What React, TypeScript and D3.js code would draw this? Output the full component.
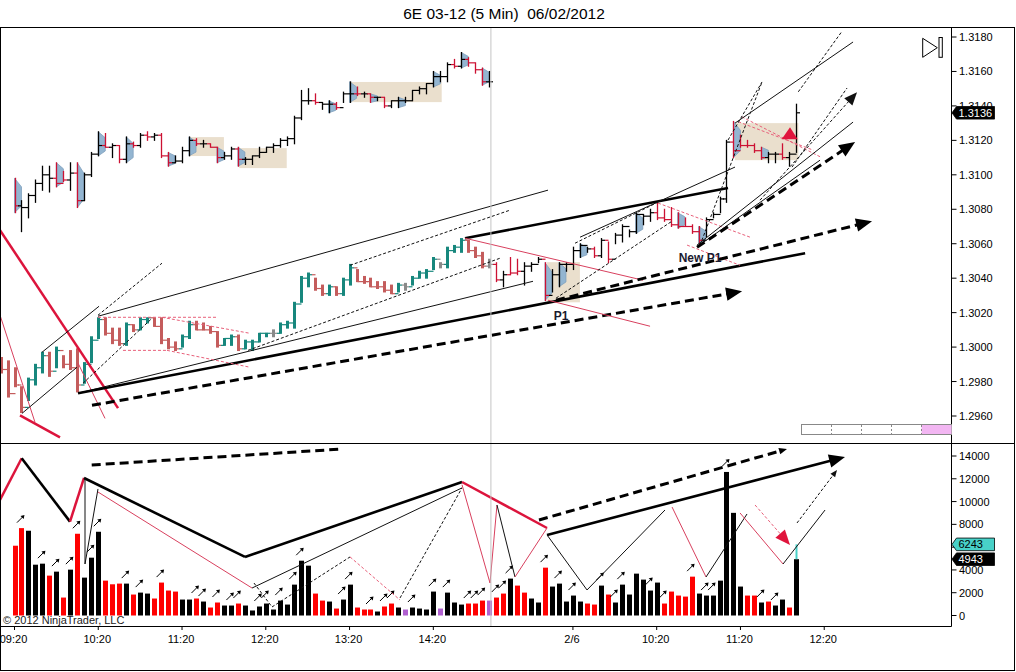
import { useEffect, useRef } from 'react';
import * as d3 from 'd3';

// ---- axis labels ----
const xTickIdx = [0, 12, 24, 36, 48, 60, 80, 92, 104, 116];
const xTickLbl = ['09:20', '10:20', '11:20', '12:20', '13:20', '14:20', '2/6', '10:20', '11:20', '12:20'];
const priceTicks = [1.296, 1.298, 1.3, 1.302, 1.304, 1.306, 1.308, 1.31, 1.312, 1.314, 1.316, 1.318];
const volTicks = [0, 2000, 4000, 6000, 8000, 10000, 12000, 14000];

// ---- main series (starts at bar -2) ----
const mainStart = -2;
const mainHigh = [
  1.2994, 1.2992, 1.2988, 1.2977, 1.2982, 1.299, 1.2997, 1.2997, 1.3, 1.2995,
  1.2998, 1.2999, 1.2991, 1.3006, 1.3017, 1.3017, 1.3011, 1.3011, 1.3014, 1.3013,
  1.3017, 1.3017, 1.3017, 1.3017, 1.3005, 1.3003, 1.3007, 1.3015, 1.3015, 1.3014,
  1.3012, 1.3009, 1.3005, 1.3007, 1.3007, 1.3004, 1.3004, 1.3008, 1.3008, 1.301,
  1.3014, 1.3015, 1.3026, 1.3041, 1.3043, 1.304, 1.3036, 1.3036, 1.3035, 1.304,
  1.3048, 1.3045, 1.3041, 1.304, 1.3038, 1.3038, 1.3036, 1.3037, 1.3037, 1.3041,
  1.3044, 1.3045, 1.3052, 1.3049, 1.3058, 1.3059, 1.3063, 1.3062, 1.3058, 1.3055,
  1.3051, 1.3049, 1.3044, 1.3052, 1.3051, 1.3049, 1.3049, 1.3052, 1.3049, 1.3045,
  1.3049, 1.3049, 1.3058, 1.306, 1.3058, 1.3058, 1.3063, 1.3061, 1.3066, 1.3071,
  1.3068, 1.3078, 1.3077, 1.308, 1.3084, 1.308, 1.3081, 1.3078, 1.3075, 1.3071,
  1.307, 1.3075, 1.3078, 1.3087, 1.312, 1.3131, 1.3123, 1.312, 1.3118, 1.3116,
  1.3113, 1.3113, 1.3118, 1.3113, 1.3141,
];
const mainLow = [
  1.2985, 1.2971, 1.2977, 1.2962, 1.2969, 1.2978, 1.2985, 1.2983, 1.2988, 1.2988,
  1.2987, 1.2974, 1.2979, 1.2991, 1.3005, 1.3007, 1.3002, 1.3001, 1.3001, 1.3009,
  1.301, 1.3014, 1.3012, 1.3002, 1.2999, 1.2998, 1.3, 1.3005, 1.301, 1.301,
  1.3008, 1.3, 1.3001, 1.3001, 1.2998, 1.2999, 1.2998, 1.3003, 1.3006, 1.3006,
  1.3008, 1.3011, 1.3011, 1.3026, 1.3035, 1.3033, 1.303, 1.303, 1.303, 1.303,
  1.3036, 1.3038, 1.3037, 1.3035, 1.3034, 1.3032, 1.3031, 1.3032, 1.3033, 1.3036,
  1.304, 1.304, 1.3045, 1.3046, 1.3046, 1.3055, 1.3055, 1.3055, 1.3052, 1.3046,
  1.3046, 1.3038, 1.3035, 1.3042, 1.3042, 1.3036, 1.3044, 1.3049, 1.3027, 1.3032,
  1.3035, 1.3044, 1.3045, 1.3052, 1.3055, 1.3052, 1.3052, 1.3049, 1.306, 1.3061,
  1.3064, 1.3066, 1.3071, 1.3073, 1.3074, 1.3073, 1.307, 1.3069, 1.307, 1.3066,
  1.306, 1.3064, 1.3075, 1.3078, 1.3084, 1.311, 1.3116, 1.3116, 1.3113, 1.3109,
  1.3107, 1.3107, 1.3109, 1.3105, 1.3113,
];
const mainClose = [
  1.2987, 1.2973, 1.2978, 1.2965, 1.2981, 1.2988, 1.2995, 1.2986, 1.2998, 1.299,
  1.2988, 1.2978, 1.299, 1.3004, 1.3016, 1.3008, 1.3004, 1.3002, 1.3013, 1.301,
  1.3016, 1.3017, 1.3012, 1.3004, 1.3, 1.2999, 1.3006, 1.3013, 1.301, 1.301,
  1.3009, 1.3001, 1.3005, 1.3006, 1.2999, 1.3003, 1.3003, 1.3008, 1.3008, 1.3008,
  1.3013, 1.3014, 1.3025, 1.304, 1.3042, 1.3034, 1.3031, 1.3035, 1.3031, 1.3039,
  1.3046, 1.3038, 1.3038, 1.3035, 1.3035, 1.3033, 1.3031, 1.3036, 1.3035, 1.304,
  1.3043, 1.3044, 1.3051, 1.3048, 1.3056, 1.3058, 1.3062, 1.3056, 1.3053, 1.3047,
  1.3048, 1.3039, 1.3042, 1.3043, 1.3044, 1.3047, 1.3048, 1.3051, 1.303, 1.3042,
  1.3048, 1.3048, 1.3056, 1.3059, 1.3057, 1.3053, 1.3062, 1.3051, 1.3065, 1.307,
  1.3067, 1.3077, 1.3076, 1.3078, 1.3075, 1.3074, 1.3071, 1.307, 1.307, 1.3067,
  1.3062, 1.3074, 1.3077, 1.3086, 1.3119, 1.3114, 1.3117, 1.3117, 1.3114, 1.311,
  1.3112, 1.3112, 1.311, 1.3112, 1.3136,
];
const mainColor = (
  'rrrrgggrgr' + 'rrgggrrrgr' + 'ggrrrrggrr' + 'rrggrggggn' + 'gggggrrgrg' +
  'grrrrrrgng' + 'gggngggrrr' + 'n' +
  'ckcckkkckk' + 'kkkkckckkk' + 'kkkccccccc' + 'kkkkccccck' + 'kckk'
).split('');
const mainBlue = [76, 78, 81, 89, 95, 98, 103, 107];

// ---- overlay series (bars 0..68) ----
const ovHigh = [
  1.3098, 1.3085, 1.3089, 1.3097, 1.3105, 1.3105, 1.3107, 1.3102, 1.3107, 1.3107,
  1.3101, 1.3113, 1.3125, 1.3124, 1.3118, 1.3117, 1.3122, 1.3119, 1.3124, 1.3125,
  1.3124, 1.3124, 1.3113, 1.3111, 1.3116, 1.3122, 1.3121, 1.312, 1.3118, 1.3116,
  1.3113, 1.3116, 1.3116, 1.311, 1.3111, 1.3116, 1.3116, 1.3118, 1.3121, 1.3122,
  1.3134, 1.3149, 1.315, 1.3147, 1.3142, 1.3143, 1.3142, 1.3148, 1.3154, 1.3151,
  1.3148, 1.3147, 1.3145, 1.3145, 1.3143, 1.3145, 1.3145, 1.3149, 1.3151, 1.3153,
  1.316, 1.316, 1.3165, 1.3167, 1.3171, 1.3168, 1.3165, 1.3162, 1.316,
];
const ovLow = [
  1.3078, 1.3067, 1.3075, 1.3084, 1.3091, 1.309, 1.3093, 1.3096, 1.3091, 1.3081,
  1.3085, 1.3099, 1.3111, 1.3116, 1.311, 1.3107, 1.3107, 1.3116, 1.3116, 1.312,
  1.312, 1.311, 1.3105, 1.3107, 1.3107, 1.3111, 1.3117, 1.3116, 1.3116, 1.3107,
  1.3109, 1.3109, 1.3105, 1.3106, 1.3106, 1.311, 1.3113, 1.3113, 1.3116, 1.3117,
  1.3118, 1.3132, 1.3141, 1.3141, 1.3138, 1.3136, 1.3138, 1.3142, 1.3142, 1.3146,
  1.3145, 1.3142, 1.3143, 1.3139, 1.3139, 1.3139, 1.3142, 1.3143, 1.3147, 1.3147,
  1.3151, 1.3154, 1.3154, 1.3162, 1.3162, 1.3163, 1.3159, 1.3152, 1.3151,
];
const ovClose = [
  1.3082, 1.3081, 1.3088, 1.3095, 1.31, 1.3098, 1.3095, 1.3097, 1.3101, 1.3085,
  1.31, 1.3112, 1.3117, 1.3116, 1.3117, 1.3109, 1.3118, 1.3117, 1.3123, 1.3122,
  1.3123, 1.3111, 1.3107, 1.3108, 1.3114, 1.312, 1.3118, 1.3118, 1.3116, 1.311,
  1.3111, 1.3115, 1.3109, 1.3109, 1.3111, 1.3113, 1.3116, 1.3117, 1.312, 1.3121,
  1.3133, 1.3143, 1.3143, 1.3142, 1.3141, 1.3141, 1.3139, 1.3147, 1.3147, 1.3147,
  1.3147, 1.3145, 1.3145, 1.314, 1.3143, 1.3143, 1.3143, 1.3149, 1.315, 1.3153,
  1.3157, 1.3157, 1.3164, 1.3163, 1.3167, 1.3165, 1.3161, 1.3154, 1.3154,
];
const ovColor = (
  'ckkkkkcckc' + 'kkkckckckc' + 'kcckkkckcc' + 'kkckkkkkkk' + 'kkkckkckkc' +
  'kckckkkkkk' + 'kkkckccck'
).split('');
const ovBlue = [0, 6, 9, 12, 16, 22, 25, 29, 32, 45, 48, 51, 55, 60, 64, 67];

// ---- volume (bars 0..112) ----
const volume = [
  6125, 7670, 7440, 4460, 4550, 3500, 3850, 1575, 4025, 7175,
  3325, 5075, 7350, 3060, 2740, 2800, 2800, 1840, 2010, 1925,
  1490, 2890, 2190, 2100, 1400, 1400, 1490, 1225, 700, 1140,
  875, 875, 1050, 875, 440, 790, 1050, 525, 1310, 960,
  2710, 4810, 4375, 1925, 1310, 1225, 610, 1400, 2710, 700,
  525, 525, 350, 790, 1050, 700, 525, 700, 610, 525,
  2100, 610, 2010, 1140, 960, 1050, 1050, 1310, 1310, 1575,
  1925, 3240, 2625, 2010, 1490, 1140, 4200, 2540, 2800, 1225,
  1750, 1225, 1050, 960, 2625, 1840, 1140, 2710, 1840, 3675,
  3150, 2190, 2890, 1050, 2100, 1750, 1660, 3410, 1925, 1750,
  1750, 3060, 12600, 9010, 2540, 1750, 1750, 1140, 1225, 875,
  1400, 700, 4943,
];
const volColor = (
  'rrkkkrkrkr' + 'kkkrrrkrkk' + 'rrrrkkrkrr' + 'kkrkkkkkkk' + 'kkkrrkrkkr' +
  'rrkrrkpkkk' + 'kpkkkrrrpr' + 'rkrrkkrkkk' + 'kkrrkrkkkk' + 'kkkrrrrrkk' +
  'kkkkkrrkrk' + 'krk'
).split('');
const volArrowIdx = [
  1, 4, 6, 8, 9, 11, 12, 16, 18, 21, 26, 27, 29, 31, 32, 35, 36, 38, 40, 41, 47, 48,
  51, 53, 54, 57, 60, 62, 65, 66, 67, 69, 70, 71, 76, 78, 80, 84, 86, 87, 91, 93, 97,
  99, 100, 102, 107, 109,
];
const volSignal = 6243;
const lastPrice = 1.3136;

// ---- drawings (bar index, value) ----
const priceLines: [number, number, number, number, string, number][] = [
  [-2.08, 1.30679, 14.83, 1.29646, 'thickRed', 0],
  [0.79, 1.29604, 6.52, 1.29476, 'thickRed', 0],
  [-2.08, 1.30186, 2.94, 1.29563, 'thinRed', 0],
  [9.1, 1.29907, 12.97, 1.29586, 'thinRed', 0],
  [1.07, 1.29615, 8.95, 1.29883, 'thin', 0],
  [3.94, 1.2997, 12.11, 1.30237, 'thin', 0],
  [11.96, 1.30185, 21.13, 1.30487, 'dash', 0],
  [9.81, 1.2979, 19.7, 1.30167, 'dash', 0],
  [11.96, 1.30179, 76.43, 1.30911, 'thin', 0],
  [9.1, 1.29732, 74.28, 1.30382, 'thin', 0],
  [9.1, 1.29732, 113.26, 1.30545, 'thick', 0],
  [11.1, 1.29662, 104.23, 1.30324, 'thickDash', 16],
  [48.07, 1.30475, 70.99, 1.30795, 'dash', 0],
  [33.45, 1.29981, 69.56, 1.30516, 'dash', 0],
  [64.54, 1.30632, 102.22, 1.30923, 'thick', 0],
  [64.54, 1.30632, 90.05, 1.30388, 'thinRed', 0],
  [76.43, 1.30272, 91.05, 1.30121, 'thinRed', 0],
  [11.96, 1.30173, 29.01, 1.30173, 'redDash', 0],
  [21.13, 1.30173, 33.74, 1.3008, 'redDash', 0],
  [15.54, 1.29981, 21.99, 1.29981, 'redDash', 0],
  [21.85, 1.29981, 33.74, 1.29883, 'redDash', 0],
  [92.19, 1.30836, 105.37, 1.30638, 'redDash', 0],
  [96.35, 1.30592, 103.94, 1.30475, 'redDash', 0],
  [104.18, 1.31337, 115.4, 1.31105, 'redDash', 0],
  [103.69, 1.31308, 114.44, 1.31143, 'redDash', 0],
  [77.58, 1.30284, 94.2, 1.30731, 'dash', 0],
  [80.3, 1.30603, 92.77, 1.30853, 'dash', 0],
  [81.02, 1.30638, 103.22, 1.31045, 'thin', 0],
  [77.58, 1.30272, 122.85, 1.30731, 'thickDash', 16],
  [103.22, 1.313, 120.13, 1.31771, 'thin', 0],
  [102.22, 1.31202, 107.09, 1.31539, 'dash', 0],
  [98.21, 1.30592, 107.09, 1.31539, 'dash', 0],
  [112.29, 1.31482, 118.51, 1.31831, 'dash', 0],
  [111.39, 1.31045, 119.27, 1.31504, 'dash', 0],
  [97.78, 1.30592, 120.13, 1.31306, 'thin', 0],
  [98.5, 1.30603, 115.4, 1.31085, 'thin', 0],
  [97.78, 1.3058, 120.42, 1.3119, 'thickDash', 16],
  [106.8, 1.30853, 120.7, 1.3148, 'dash', 13],
];
const volLines: [number, number, number, number, string, number][] = [
  [-2.08, 10140, 1.03, 13800, 'thickRed', 0],
  [1.03, 13800, 7.95, 8240, 'thick', 0],
  [7.95, 8240, 9.96, 12070, 'thickRed', 0],
  [9.96, 12070, 33.02, 5140, 'thick', 0],
  [33.02, 5140, 64.11, 11720, 'thick', 0],
  [64.11, 11720, 76.29, 7680, 'thickRed', 0],
  [76.29, 7070, 118.98, 13920, 'thick', 16],
  [11.06, 13210, 47.06, 14620, 'thickDash', 0],
  [75.14, 8380, 110.67, 14620, 'thickDash', 8],
  [10.1, 12070, 10.1, 4520, 'thin', 0],
  [10.1, 4520, 11.96, 11110, 'thin', 0],
  [11.96, 10840, 34.03, 2410, 'thinRed', 0],
  [34.03, 2410, 64.11, 11200, 'thin', 0],
  [34.31, 2850, 36.89, 750, 'dash', 0],
  [36.89, 750, 48.07, 5140, 'dash', 0],
  [48.07, 5140, 55.23, 1360, 'redDash', 0],
  [55.23, 1540, 64.11, 11200, 'dash', 0],
  [64.11, 11480, 68.12, 2850, 'thinRed', 0],
  [68.12, 2850, 69.12, 9700, 'thinRed', 0],
  [69.12, 9700, 71.7, 3380, 'thin', 0],
  [71.7, 3380, 76.29, 7680, 'thinRed', 0],
  [76.29, 7070, 82.02, 2240, 'thin', 0],
  [82.02, 2240, 93.19, 9260, 'thin', 0],
  [94.2, 9520, 99.07, 3380, 'thinRed', 0],
  [99.07, 3380, 104.94, 8910, 'thin', 0],
  [103.94, 9000, 110.1, 4520, 'thinRed', 0],
  [110.1, 4520, 116.12, 9260, 'thin', 0],
  [106.09, 9700, 111.1, 6190, 'redDash', 15],
  [112.1, 8120, 117.83, 12770, 'dash', 7],
];
// boxes: [i1, i2, pHigh, pLow]
const boxes: [number, number, number, number][] = [
  [25.1, 30.0, 1.31219, 1.31109],
  [32.2, 39.0, 1.31155, 1.31039],
  [48.1, 61.2, 1.31539, 1.31422],
  [76.3, 81.0, 1.30493, 1.3026],
  [103.2, 112.3, 1.313, 1.31085],
];
const redTriangle: [number, number][] = [[109.9, 1.31206], [111.1, 1.31276], [112.2, 1.31206]];
const textLabels: [number, number, string][] = [[78.3, 1.30156, 'P1'], [98.2, 1.30493, 'New P1']];
const markerLineIdx = 68.25;

const FONT = '"Liberation Sans", Arial, sans-serif';
const styles: Record<string, { c: string; w: number; d?: string; h?: string }> = {
  thickRed: { c: '#dc143c', w: 2.5 },
  thinRed: { c: '#d8405e', w: 1 },
  redDash: { c: '#e8607a', w: 1, d: '3,2', h: '#e0143c' },
  thin: { c: '#111', w: 1 },
  dash: { c: '#111', w: 1, d: '3,2' },
  thick: { c: '#000', w: 2.6 },
  thickDash: { c: '#000', w: 3, d: '9,5' },
};
const barCol: Record<string, string> = { g: '#17877d', r: '#c45c5c', n: '#8a8a8a', k: '#000', c: '#cc1133' };
const volCol: Record<string, string> = { r: '#ff0000', k: '#000', p: '#b060d0' };

const App = () => {
  const ref = useRef<SVGSVGElement>(null);

  useEffect(() => {
    const svg = d3.select(ref.current);
    svg.selectAll('*').remove();

    const x = d3.scaleLinear().domain([0, 112]).range([14.5, 796.3]);
    const y = d3.scaleLinear().domain([1.296, 1.318]).range([416, 37]);
    const yv = d3.scaleLinear().domain([0, 14000]).range([615.5, 456]);
    const axisX = 951.5;

    const defs = svg.append('defs');
    defs.append('clipPath').attr('id', 'cp').append('rect').attr('x', 1).attr('y', 28).attr('width', 950).attr('height', 415);
    defs.append('clipPath').attr('id', 'cv').append('rect').attr('x', 1).attr('y', 444).attr('width', 950).attr('height', 182);

    // title
    svg.append('text').attr('x', 504).attr('y', 19).attr('text-anchor', 'middle')
      .style('font-family', FONT).style('font-size', '15.5px').style('white-space', 'pre')
      .text('6E 03-12 (5 Min)  06/02/2012');

    const gp = svg.append('g').attr('clip-path', 'url(#cp)');
    const gv = svg.append('g').attr('clip-path', 'url(#cv)');

    // boxes
    boxes.forEach(([i1, i2, p1, p2]) => {
      gp.append('rect').attr('x', x(i1)).attr('y', y(p1)).attr('width', x(i2) - x(i1))
        .attr('height', y(p2) - y(p1)).attr('fill', '#eadfcd');
    });

    // marker line
    svg.append('line').attr('x1', x(markerLineIdx)).attr('x2', x(markerLineIdx))
      .attr('y1', 28).attr('y2', 626).attr('stroke', '#c4c4c4').attr('stroke-width', 1);

    const drawBars = (
      high: number[], low: number[], close: number[], cols: string[], start: number, blue: number[],
    ) => {
      blue.forEach((i) => {
        const k = i - start;
        const cx = x(i);
        const yh = y(high[k]);
        const yl = y(low[k]);
        const h = yl - yh;
        gp.append('polygon')
          .attr('points', `${cx},${yh} ${cx + 7},${yh + h * 0.25} ${cx + 7},${yl - h * 0.2} ${cx},${yl}`)
          .attr('fill', '#93b5d1').attr('stroke', '#7f9fbd').attr('stroke-width', 0.8);
      });
      high.forEach((hv, k) => {
        const i = start + k;
        const cx = Math.round(x(i)) + 0.5;
        const code = cols[k];
        const col = barCol[code];
        const heavy = code === 'g' || code === 'r' || code === 'n';
        gp.append('line').attr('x1', cx).attr('x2', cx).attr('y1', y(hv) - 0.5).attr('y2', y(low[k]) + 0.5)
          .attr('stroke', col).attr('stroke-width', heavy ? 3 : 1.3);
        if (k > 0) {
          const yo = y(close[k - 1]);
          gp.append('line').attr('x1', cx - 3.5).attr('x2', cx).attr('y1', yo).attr('y2', yo)
            .attr('stroke', col).attr('stroke-width', 1.2);
        }
        const yc = y(close[k]);
        gp.append('line').attr('x1', cx).attr('x2', cx + 3.5).attr('y1', yc).attr('y2', yc)
          .attr('stroke', col).attr('stroke-width', 1.2);
      });
    };

    drawBars(ovHigh, ovLow, ovClose, ovColor, 0, ovBlue);
    drawBars(mainHigh, mainLow, mainClose, mainColor, mainStart, mainBlue);

    const head = (g: any, x1: number, y1: number, x2: number, y2: number, len: number, col: string) => {
      const dx = x2 - x1;
      const dy = y2 - y1;
      const d = Math.hypot(dx, dy);
      const ux = dx / d;
      const uy = dy / d;
      const bx = x2 - ux * len;
      const by = y2 - uy * len;
      const w = len * 0.42;
      g.append('polygon')
        .attr('points', `${x2},${y2} ${bx - uy * w},${by + ux * w} ${bx + uy * w},${by - ux * w}`)
        .attr('fill', col);
      return [bx + ux * 2, by + uy * 2];
    };

    const drawLines = (g: any, lines: [number, number, number, number, string, number][], ys: (v: number) => number) => {
      lines.forEach(([i1, v1, i2, v2, st, hl]) => {
        const s = styles[st];
        const x1 = x(i1);
        const y1 = ys(v1);
        let x2 = x(i2);
        let y2 = ys(v2);
        if (hl > 0) {
          [x2, y2] = head(g, x1, y1, x2, y2, hl, s.h || s.c);
        }
        const ln = g.append('line').attr('x1', x1).attr('y1', y1).attr('x2', x2).attr('y2', y2)
          .attr('stroke', s.c).attr('stroke-width', s.w);
        if (s.d) ln.attr('stroke-dasharray', s.d);
      });
    };

    drawLines(gp, priceLines, y);

    gp.append('polygon').attr('points', redTriangle.map(([i, p]) => `${x(i)},${y(p)}`).join(' '))
      .attr('fill', '#e0143c');

    textLabels.forEach(([i, p, t]) => {
      gp.append('text').attr('x', x(i)).attr('y', y(p)).attr('text-anchor', 'middle')
        .style('font-family', FONT).style('font-size', '12px').style('font-weight', 'bold')
        .attr('fill', '#1a1a30').text(t);
    });

    // volume bars
    volume.forEach((v, i) => {
      gv.append('rect').attr('x', Math.round(x(i)) - 2).attr('y', yv(v)).attr('width', 5)
        .attr('height', yv(0) - yv(v)).attr('fill', volCol[volColor[i]]);
    });
    gv.append('line').attr('x1', Math.round(x(112)) + 0.5).attr('x2', Math.round(x(112)) + 0.5)
      .attr('y1', yv(volSignal)).attr('y2', yv(volume[112])).attr('stroke', '#48d1c8').attr('stroke-width', 2);

    volArrowIdx.forEach((i) => {
      const cx = x(i) - 1;
      const cy = yv(volume[i]) - 9;
      gv.append('line').attr('x1', cx - 3.5).attr('y1', cy + 3.5).attr('x2', cx + 2.5).attr('y2', cy - 2.5)
        .attr('stroke', '#000').attr('stroke-width', 1);
      gv.append('polygon').attr('points', `${cx + 4},${cy - 4} ${cx},${cy - 3.2} ${cx + 3.2},${cy}`).attr('fill', '#000');
    });

    drawLines(gv, volLines, yv);

    // frame and panel lines
    svg.append('rect').attr('x', 0.5).attr('y', 27.5).attr('width', 1014).attr('height', 643)
      .attr('fill', 'none').attr('stroke', '#000');
    svg.append('line').attr('x1', 0).attr('x2', 1015).attr('y1', 443.5).attr('y2', 443.5).attr('stroke', '#000');
    svg.append('line').attr('x1', axisX).attr('x2', axisX).attr('y1', 27.5).attr('y2', 626.5).attr('stroke', '#000');
    svg.append('line').attr('x1', 0).attr('x2', axisX).attr('y1', 626.5).attr('y2', 626.5).attr('stroke', '#000');

    // value tags sit over the axis; labels they fully hide are skipped
    const volTagVals = [volSignal, volume[112]];

    // price axis
    priceTicks.forEach((t) => {
      svg.append('line').attr('x1', axisX).attr('x2', axisX + 5).attr('y1', y(t)).attr('y2', y(t)).attr('stroke', '#000');
      svg.append('text').attr('x', axisX + 7.5).attr('y', y(t) + 4).style('font-family', FONT)
        .style('font-size', '11px').text(t.toFixed(4));
    });
    // volume axis
    volTicks.forEach((t) => {
      svg.append('line').attr('x1', axisX).attr('x2', axisX + 5).attr('y1', yv(t)).attr('y2', yv(t)).attr('stroke', '#000');
      if (volTagVals.some((v) => Math.abs(yv(v) - yv(t)) < 6)) return;
      svg.append('text').attr('x', axisX + 7.5).attr('y', yv(t) + 4).style('font-family', FONT)
        .style('font-size', '11px').text(String(t));
    });
    // time axis
    xTickIdx.forEach((i, k) => {
      svg.append('line').attr('x1', x(i)).attr('x2', x(i)).attr('y1', 626.5).attr('y2', 630).attr('stroke', '#000');
      svg.append('text').attr('x', x(i) - 1).attr('y', 643).attr('text-anchor', 'middle')
        .style('font-family', FONT).style('font-size', '11px').text(xTickLbl[k]);
    });

    const tag = (yy: number, label: string, bg: string, fg: string) => {
      svg.append('polygon')
        .attr('points', `${axisX + 0.5},${yy} ${axisX + 5},${yy - 6.3} ${axisX + 43},${yy - 6.3} ${axisX + 43},${yy + 6.3} ${axisX + 5},${yy + 6.3}`)
        .attr('fill', bg).attr('stroke', '#000').attr('stroke-width', 0.8);
      svg.append('text').attr('x', axisX + 7).attr('y', yy + 4).style('font-family', FONT)
        .style('font-size', '11px').attr('fill', fg).text(label);
    };
    tag(y(lastPrice), lastPrice.toFixed(4), '#000', '#fff');
    tag(yv(volSignal), String(volSignal), '#48d1c8', '#000');
    tag(yv(volume[112]), String(volume[112]), '#000', '#fff');

    // small widget bottom right of price panel
    svg.append('rect').attr('x', 801.5).attr('y', 424.5).attr('width', 150).attr('height', 10)
      .attr('fill', '#fff').attr('stroke', '#888');
    svg.append('rect').attr('x', 921.5).attr('y', 425).attr('width', 30).attr('height', 9).attr('fill', '#f2b6f2');
    [831.5, 861.5, 891.5, 921.5].forEach((xx) => {
      svg.append('line').attr('x1', xx).attr('x2', xx).attr('y1', 425).attr('y2', 434)
        .attr('stroke', '#888').attr('stroke-dasharray', '2,2');
    });

    // play-to-end glyph
    svg.append('polygon').attr('points', '922.7,38.3 937.3,47.7 922.7,57.3')
      .attr('fill', '#fff').attr('stroke', '#000');
    svg.append('rect').attr('x', 939).attr('y', 37.5).attr('width', 3.3).attr('height', 19.8)
      .attr('fill', '#fff').attr('stroke', '#000');

    svg.append('text').attr('x', 3).attr('y', 624).style('font-family', FONT).style('font-size', '11px')
      .attr('fill', '#222').text('\u00a9 2012 NinjaTrader, LLC');
  }, []);

  return (
    <svg
      ref={ref}
      width={1016}
      height={672}
      style={{ position: 'absolute', left: 0, top: 0, background: '#fff' }}
    />
  );
};

export default App;
